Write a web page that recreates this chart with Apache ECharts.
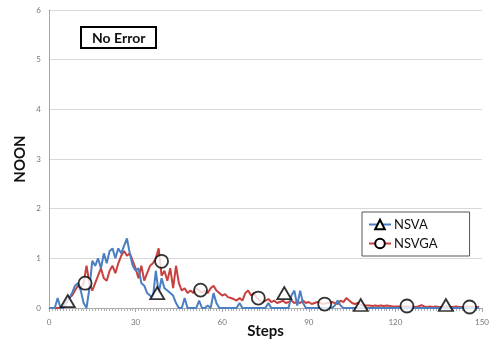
<!DOCTYPE html>
<html>
<head>
<meta charset="utf-8">
<script src="https://cdn.jsdelivr.net/npm/echarts@6/dist/echarts.min.js"></script>
<style>
html,body{margin:0;padding:0;background:#fff;}
#chart{width:489px;height:346px;}
</style>
</head>
<body>
<div id="chart"></div>
<script>
// Series values, one per step (step = index)
var nsva = [
  0,0,0,0.2,0,0,0.1,0.2,0.3,0.45,
  0.5,0.35,0.1,0,0.4,0.95,0.85,1.0,0.8,1.1,
  0.9,1.15,1.2,1.0,1.2,1.1,1.25,1.4,1.1,0.85,
  0.75,0.8,0.5,0.45,0.3,0.25,0.2,0.75,0.3,0.6,
  0.4,0.35,0.3,0.25,0.1,0,0,0.2,0,0,
  0,0,0.15,0,0,0.05,0,0.3,0.1,0,
  0,0,0,0,0,0,0.1,0,0,0,
  0,0,0,0,0,0,0.1,0,0,0,
  0,0,0,0,0.25,0.35,0.05,0.35,0.1,0,
  0,0,0,0,0,0,0,0,0,0.05,
  0.15,0.05,0,0,0,0,0,0,0,0,
  0,0,0,0,0,0,0,0,0,0,
  0,0,0,0,0,0,0,0,0,0,
  0,0,0,0,0,0,0,0,0,0,
  0,0,0,0,0,0,0,0,0,0
];
var nsvga = [
  0,0,0,0,0,0.05,0.15,0.2,0.25,0.35,
  0.45,0.4,0.5,0.85,0.5,0.35,0.5,0.65,0.8,0.6,
  0.55,0.75,0.85,0.7,0.9,1.05,1.15,1.05,1.1,0.95,
  0.8,0.6,0.85,0.55,0.7,0.85,0.9,1.0,1.2,0.65,
  0.75,0.55,0.8,0.4,0.85,0.5,0.35,0.4,0.3,0.35,
  0.3,0.4,0.35,0.3,0.35,0.3,0.4,0.45,0.35,0.3,
  0.25,0.28,0.22,0.2,0.18,0.15,0.2,0.15,0.3,0.35,
  0.25,0.3,0.2,0.15,0.12,0.15,0.18,0.12,0.15,0.1,
  0.12,0.15,0.1,0.12,0.15,0.1,0.12,0.1,0.15,0.1,
  0.12,0.08,0.1,0.12,0.1,0.08,0.1,0.1,0.12,0.1,
  0.08,0.15,0.12,0.2,0.15,0.1,0.08,0.1,0.06,0.05,
  0.05,0.05,0.04,0.05,0.04,0.05,0.04,0.05,0.04,0.03,
  0.03,0.03,0.02,0.03,0.03,0.02,0.03,0.02,0.03,0.06,
  0.03,0.02,0.03,0.02,0.03,0.02,0.02,0.03,0.02,0.02,
  0.02,0.03,0.02,0.02,0.02,0.03,0.02,0.02,0.02,0.02
];
// Marker positions [step, value]
var nsvaMarkers = [[6.5,0.14],[37.5,0.3],[81.5,0.3],[108,0.06],[137.5,0.06]];
var nsvgaMarkers = [[12.5,0.5],[39,0.94],[52.5,0.36],[72.5,0.2],[95.5,0.08],[124,0.04],[145.7,0.02]];
var yTicks = [0,1,2,3,4,5,6];
var xTicks = [0,30,60,90,120,150];

var BLUE = '#4a7fc1', RED = '#c9413f';
function pairs(arr){ return arr.map(function(v,i){ return [i, v]; }); }

var chart = echarts.init(document.getElementById('chart'), null, {renderer:'canvas'});
chart.setOption({
  animation: false,
  textStyle: {fontFamily: 'Lato, "Liberation Sans", sans-serif'},
  title: {
    text: 'No Error', left: 81, top: 27,
    padding: [4, 11, 3, 11],
    borderColor: '#000', borderWidth: 2,
    textStyle: {fontSize: 14, fontWeight: 'bold', color: '#111', fontFamily: 'Lato, sans-serif'}
  },
  legend: {
    orient: 'vertical', left: 362, top: 212,
    padding: [6, 32, 6, 6], itemGap: 6,
    itemWidth: 22, itemHeight: 12,
    backgroundColor: '#fff', borderColor: '#555', borderWidth: 1,
    textStyle: {fontSize: 13, color: '#111', padding: [0,0,0,-2]},
    data: ['NSVA', 'NSVGA']
  },
  grid: {left: 49, right: 7, top: 10, bottom: 38, outerBoundsMode: 'none', containLabel: false},
  xAxis: {
    type: 'value', min: xTicks[0], max: xTicks[xTicks.length-1], interval: 30,
    name: 'Steps', nameLocation: 'middle', nameGap: 16, nameMoveOverlap: false,
    nameTextStyle: {fontSize: 15, fontWeight: 'bold', color: '#111'},
    axisLine: {show: true, lineStyle: {color: '#a6a6a6'}},
    axisTick: {show: true, length: 4, lineStyle: {color: '#a6a6a6'}},
    minorTick: {show: true, splitNumber: 30, length: 3, lineStyle: {color: '#b0b0b0'}},
    axisLabel: {fontSize: 8, color: '#777', margin: 10},
    splitLine: {show: false}
  },
  yAxis: {
    type: 'value', min: yTicks[0], max: yTicks[yTicks.length-1], interval: 1,
    name: 'NOON', nameLocation: 'middle', nameGap: 21, nameMoveOverlap: false, nameRotate: 90,
    nameTextStyle: {fontSize: 15, fontWeight: 'bold', color: '#111'},
    axisLine: {show: true, lineStyle: {color: '#a6a6a6'}},
    axisTick: {show: false},
    axisLabel: {fontSize: 8, color: '#777', margin: 8},
    splitLine: {show: true, lineStyle: {color: '#d9d9d9', width: 1}}
  },
  series: [
    {
      name: 'NSVA', type: 'line', data: pairs(nsva),
      showSymbol: false, symbol: 'triangle', symbolSize: 13,
      lineStyle: {color: BLUE, width: 2},
      itemStyle: {color: '#fff', borderColor: '#000', borderWidth: 1.5},
      z: 3
    },
    {
      name: 'NSVGA', type: 'line', data: pairs(nsvga),
      showSymbol: false, symbol: 'circle', symbolSize: 11,
      lineStyle: {color: RED, width: 2},
      itemStyle: {color: '#fff', borderColor: '#000', borderWidth: 1.5},
      z: 2
    },
    {
      name: 'NSVA', type: 'scatter', data: nsvaMarkers,
      symbol: 'triangle', symbolSize: [14, 12],
      itemStyle: {color: '#fff', borderColor: '#000', borderWidth: 1.8},
      z: 5
    },
    {
      name: 'NSVGA', type: 'scatter', data: nsvgaMarkers,
      symbol: 'circle', symbolSize: 13,
      itemStyle: {color: '#fff', borderColor: '#000', borderWidth: 1.8},
      z: 5
    }
  ]
});
</script>
</body>
</html>
